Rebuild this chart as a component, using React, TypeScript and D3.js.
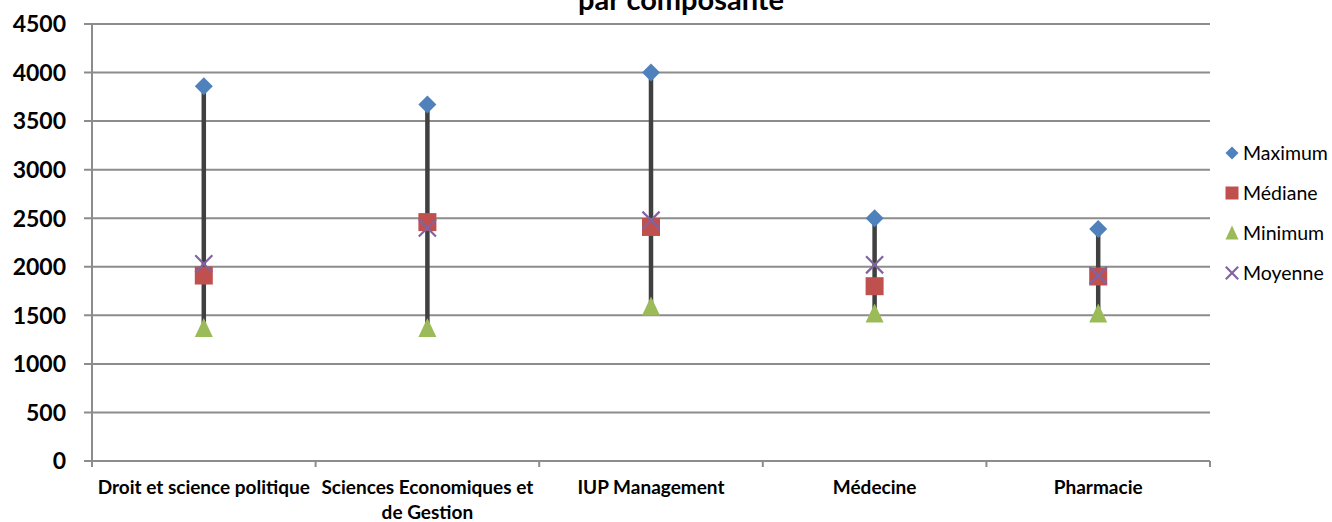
import React from "react";
import * as d3 from "d3";

const categories = [
  "Droit et science politique",
  "Sciences Economiques et de Gestion",
  "IUP Management",
  "Médecine",
  "Pharmacie",
];
const maximum = [3860, 3670, 4000, 2500, 2390];
const mediane = [1910, 2460, 2410, 1800, 1900];
const minimum = [1370, 1370, 1590, 1520, 1520];
const moyenne = [2030, 2400, 2480, 2020, 1910];
const yTicks = [0, 500, 1000, 1500, 2000, 2500, 3000, 3500, 4000, 4500];
const seriesNames = ["Maximum", "Médiane", "Minimum", "Moyenne"];
const title = "par composante";

const W = 1332;
const H = 522;
const colors = ["#4F81BD", "#C0504D", "#9BBB59", "#8064A2"];
const FONT = "Lato, 'Open Sans', sans-serif";

function Marker({ kind, x, y, s }: { kind: number; x: number; y: number; s: number }) {
  const h = s / 2;
  if (kind === 0)
    return <path d={`M${x},${y - h}L${x + h},${y}L${x},${y + h}L${x - h},${y}Z`} fill={colors[0]} />;
  if (kind === 1)
    return <rect x={x - h} y={y - h} width={s} height={s} fill={colors[1]} />;
  if (kind === 2)
    return <path d={`M${x},${y - h - 1}L${x + h},${y + h}L${x - h},${y + h}Z`} fill={colors[2]} />;
  const k = h * 0.95;
  return (
    <path
      d={`M${x - k},${y - k}L${x + k},${y + k}M${x - k},${y + k}L${x + k},${y - k}`}
      stroke={colors[3]}
      strokeWidth={2.2}
      fill="none"
    />
  );
}

export default function App() {
  const y = d3.scaleLinear().domain([0, 4500]).range([461, 24]);
  const x = d3.scaleBand<string>().domain(categories).range([92, 1210]).padding(0);
  const bw = x.bandwidth();
  const cx = (c: string) => (x(c) as number) + bw / 2;
  const series = [maximum, mediane, minimum, moyenne];
  const boundaries = [...categories.map((c) => x(c) as number), 1210];

  const wrapLabel = (c: string): string[] => {
    if (c === "Sciences Economiques et de Gestion") return ["Sciences Economiques et", "de Gestion"];
    return [c];
  };

  return (
    <svg
      width={W}
      height={H}
      style={{ position: "absolute", left: 0, top: 0, background: "#fff" }}
      fontFamily={FONT}
    >
      <rect x={0} y={0} width={W} height={H} fill="#fff" />
      <text x={681} y={10} textAnchor="middle" fontWeight="bold" fontSize={29} fill="#000">
        {title}
      </text>
      {yTicks.map((t) => (
        <g key={t}>
          <line x1={84} x2={1210} y1={y(t)} y2={y(t)} stroke="#8c8c8c" strokeWidth={2} />
          <text
            x={66}
            y={y(t)}
            dy="0.36em"
            textAnchor="end"
            fontWeight="bold"
            fontSize={23}
            fill="#000"
          >
            {t}
          </text>
        </g>
      ))}
      <line x1={92} x2={92} y1={y(4500)} y2={y(0)} stroke="#8c8c8c" strokeWidth={2} />
      {boundaries.map((b, i) => (
        <line key={i} x1={b} x2={b} y1={y(0)} y2={y(0) + 6} stroke="#8c8c8c" strokeWidth={2} />
      ))}
      {categories.map((c) => (
        <text key={c} x={cx(c)} y={494} textAnchor="middle" fontWeight="bold" fontSize={19} fill="#000">
          {wrapLabel(c).map((l, i) => (
            <tspan key={i} x={cx(c)} dy={i === 0 ? 0 : 25}>
              {l}
            </tspan>
          ))}
        </text>
      ))}
      {categories.map((c, i) => (
        <line
          key={c}
          x1={cx(c)}
          x2={cx(c)}
          y1={y(minimum[i])}
          y2={y(maximum[i])}
          stroke="#404040"
          strokeWidth={4.5}
        />
      ))}
      {series.map((vals, k) =>
        categories.map((c, i) => <Marker key={k + c} kind={k} x={cx(c)} y={y(vals[i])} s={18} />)
      )}
      {seriesNames.map((n, k) => {
        const ly = 153 + k * 40;
        return (
          <g key={n}>
            <Marker kind={k} x={1232} y={ly} s={13} />
            <text x={1243} y={ly} dy="0.36em" fontSize={19.5} fill="#000">
              {n}
            </text>
          </g>
        );
      })}
    </svg>
  );
}
